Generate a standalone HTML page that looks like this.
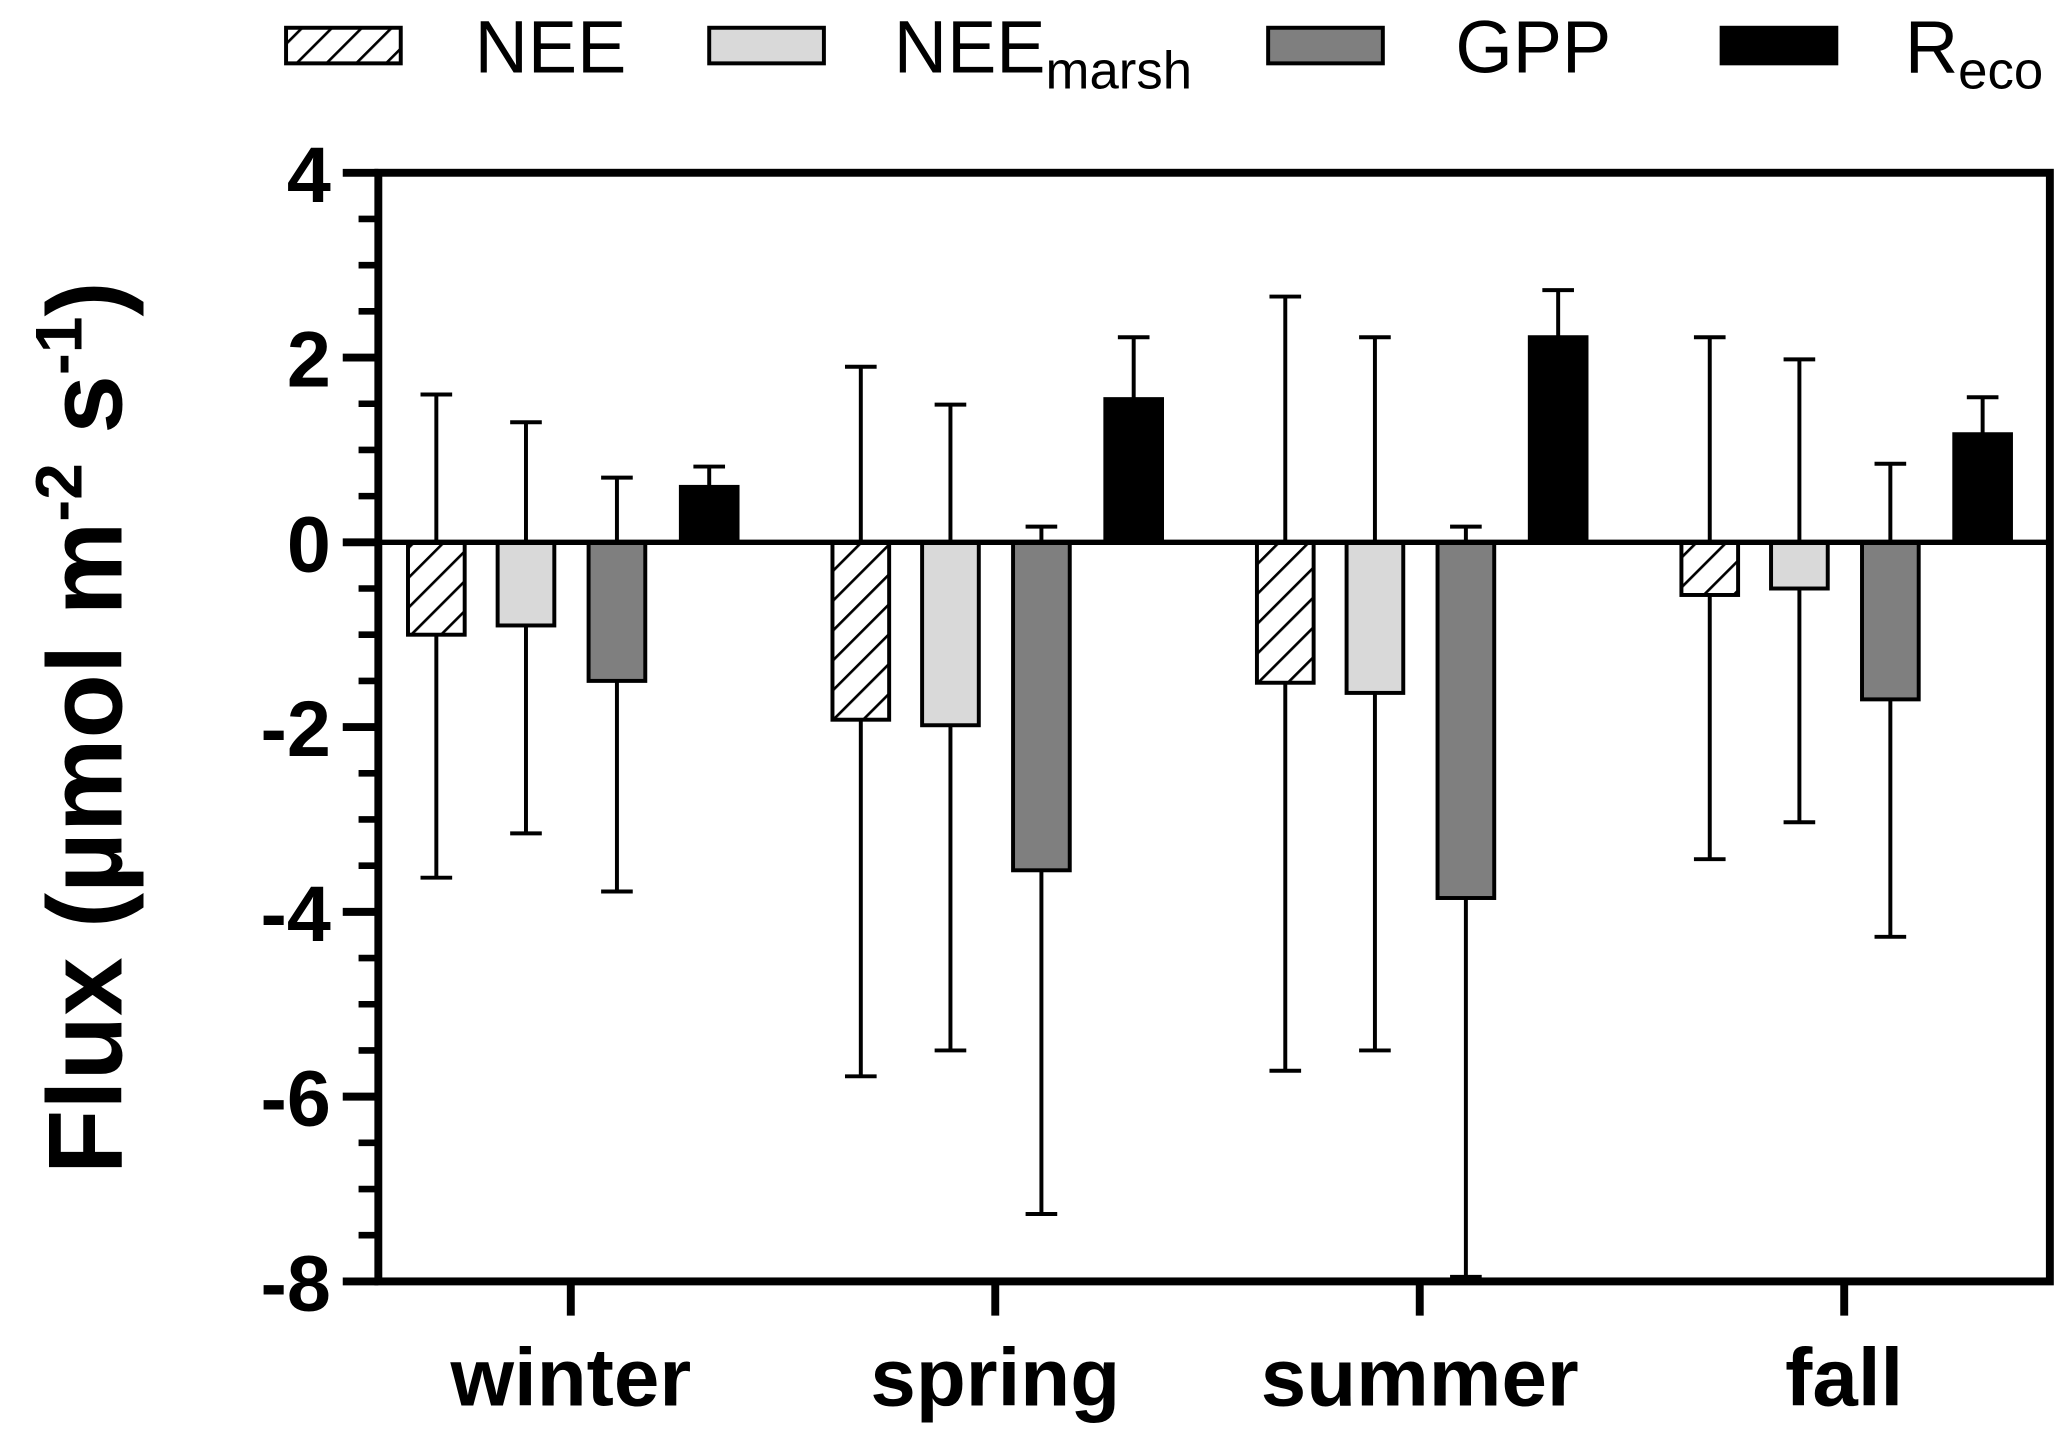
<!DOCTYPE html>
<html><head><meta charset="utf-8"><style>
html,body{margin:0;padding:0;background:#fff;}
svg{display:block;font-family:"Liberation Sans",Arial,sans-serif;}
</style></head><body>
<svg id="chart" width="2067" height="1441" viewBox="0 0 1568 1093" xmlns="http://www.w3.org/2000/svg">
<defs>
<pattern id="hatch" patternUnits="userSpaceOnUse" width="16" height="16" patternTransform="rotate(45)">
<rect width="16" height="16" fill="#fff"/><line x1="0" y1="0" x2="0" y2="16" stroke="#000" stroke-width="4"/>
</pattern>
</defs>
<g id="legend"></g>
<g id="plot"></g>
</svg>
<script>
const categories = ["winter","spring","summer","fall"];
const seriesNames = ["NEE","NEEmarsh","GPP","Reco"];
const neeVals = [-1.0,-1.92,-1.52,-0.57];
const neeHi = [1.6,1.9,2.66,2.22];
const neeLo = [-3.63,-5.78,-5.72,-3.43];
const marshVals = [-0.9,-1.98,-1.63,-0.5];
const marshHi = [1.3,1.49,2.22,1.98];
const marshLo = [-3.15,-5.5,-5.5,-3.03];
const gppVals = [-1.5,-3.55,-3.85,-1.7];
const gppHi = [0.7,0.17,0.17,0.85];
const gppLo = [-3.78,-7.27,-7.95,-4.27];
const recoVals = [0.6,1.55,2.22,1.17];
const recoHi = [0.82,2.22,2.73,1.57];
const recoLo = [0.6,1.55,2.22,1.17];
const yTicks = [4,2,0,-2,-4,-6,-8];
const yTickLabels = ["4","2","0","-2","-4","-6","-8"];

const NS="http://www.w3.org/2000/svg";
const plot=document.getElementById('plot');
const legend=document.getElementById('legend');
const L=287,R=1555,T=131,B=972,yMin=-8,yMax=4;
function y(v){return T+(yMax-v)/(yMax-yMin)*(B-T);}
const catW=322,cat0=433;
function xc(i){return cat0+i*catW;}
const offs=[-102,-34,35,105],bw=43;
function mk(tag,attrs,parent){const e=document.createElementNS(NS,tag);for(const k in attrs)e.setAttribute(k,attrs[k]);(parent||plot).appendChild(e);return e;}
const fills=["url(#hatch)","#d9d9d9","#7f7f7f","#000"];
const vals=[neeVals,marshVals,gppVals,recoVals],his=[neeHi,marshHi,gppHi,recoHi],los=[neeLo,marshLo,gppLo,recoLo];
for(let s=0;s<4;s++){for(let i=0;i<categories.length;i++){
 const cx=xc(i)+offs[s],v=vals[s][i];
 const hi=his[s][i],lo=los[s][i];
 const el=mk('line',{x1:cx,x2:cx,y1:y(hi),y2:y(lo),stroke:'#000','stroke-width':3});
 
 
 [hi,lo].forEach((e,k)=>{if(k==1&&lo===v)return;const c=mk('line',{x1:cx-12,x2:cx+12,y1:y(e),y2:y(e),stroke:'#000','stroke-width':3});
  
  });
 const top=Math.min(y(v),y(0)),h=Math.abs(y(v)-y(0));
 const r=mk('rect',{x:cx-bw/2,y:top,width:bw,height:h,fill:fills[s],stroke:'#000','stroke-width':3});
 
 
}}
const z=mk('line',{x1:L,x2:R,y1:y(0),y2:y(0),stroke:'#000','stroke-width':4});


const fr=mk('rect',{x:L,y:T,width:R-L,height:B-T,fill:'none',stroke:'#000','stroke-width':6});


for(let v=yMin;v<=yMax;v+=0.5){const major=Number.isInteger(v/2);
 const t=mk('line',{x1:major?L-27:L-15,x2:L,y1:y(v),y2:y(v),stroke:'#000','stroke-width':major?6:5});
 
 }
yTicks.forEach((v,i)=>{const t=mk('text',{x:251,y:y(v)+22,'text-anchor':'end','font-size':60,'font-weight':'bold'});t.textContent=yTickLabels[i];
 
 });
categories.forEach((c,i)=>{const t=mk('line',{x1:xc(i),x2:xc(i),y1:B,y2:B+26,stroke:'#000','stroke-width':6});
 
 
 const l=mk('text',{x:xc(i),y:1066,'text-anchor':'middle','font-size':62,'font-weight':'bold'});l.textContent=c;
 
 });
const yt=mk('text',{transform:'translate(92,552) rotate(-90)','text-anchor':'middle','font-size':80,'font-weight':'bold'});


yt.innerHTML='Flux (µmol m<tspan dy="-30" font-size="50">-2</tspan><tspan dy="30"> s</tspan><tspan dy="-30" font-size="50">-1</tspan><tspan dy="30">)</tspan>';
const lx=[217,538,962,1306],tx=[360,678,1104,1445];
const ltxt=['NEE','NEE<tspan font-size="40" dy="12">marsh</tspan>','GPP','R<tspan font-size="40" dy="12">eco</tspan>'];
for(let s=0;s<4;s++){
 const r=mk('rect',{x:lx[s],y:21,width:87,height:27,fill:fills[s],stroke:'#000','stroke-width':3},legend);
 
 
 const t=mk('text',{x:tx[s],y:55,'font-size':56},legend);t.innerHTML=ltxt[s];
 
 
}
</script>
</body></html>
